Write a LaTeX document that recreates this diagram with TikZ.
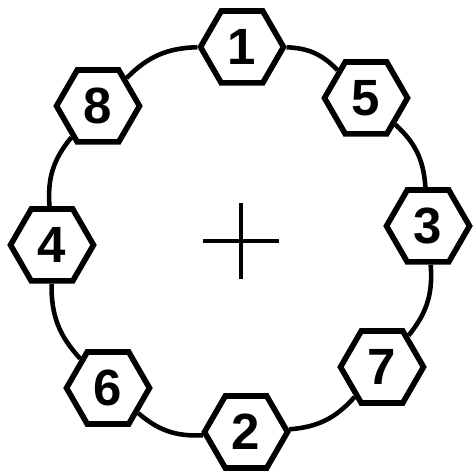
\documentclass[tikz,border=0pt]{standalone}
\usepackage{fontspec}
\setmainfont{Liberation Sans}
\usetikzlibrary{shapes.geometric}

\begin{document}
\begin{tikzpicture}[
  bolt/.style={regular polygon, regular polygon sides=6, draw, line width=3.2pt,
    fill=white, minimum size=1.66cm, inner sep=0pt,
    font=\fontsize{29}{31}\selectfont\bfseries},
  ring/.style={line width=2.6pt}
]
  \useasboundingbox (-4.8,-4.7) rectangle (4.68,4.78);

  % bolt heads round the flange, in tightening order
  \foreach \px/\py/\num in {0.04/3.84/1, 2.52/2.82/5, 3.76/0.26/3, 2.84/-2.56/7,
    0.12/-3.86/2, -2.64/-2.98/6, -3.76/-0.12/4, -2.84/2.66/8} {
    \node[bolt] (bolt\num) at (\px,\py) {\num};
  }

  % flange circle, bolt to bolt
  \foreach \a/\b in {1/5, 5/3, 3/7, 7/2, 2/6, 6/4, 4/8, 8/1} {
    \draw[ring] (bolt\a) to[bend left=22] (bolt\b);
  }

  % centre mark
  \draw[line width=2.8pt] (-0.74,-0.04) -- (0.78,-0.04);
  \draw[line width=2.8pt] (0.02,0.72) -- (0.02,-0.80);
\end{tikzpicture}
\end{document}
